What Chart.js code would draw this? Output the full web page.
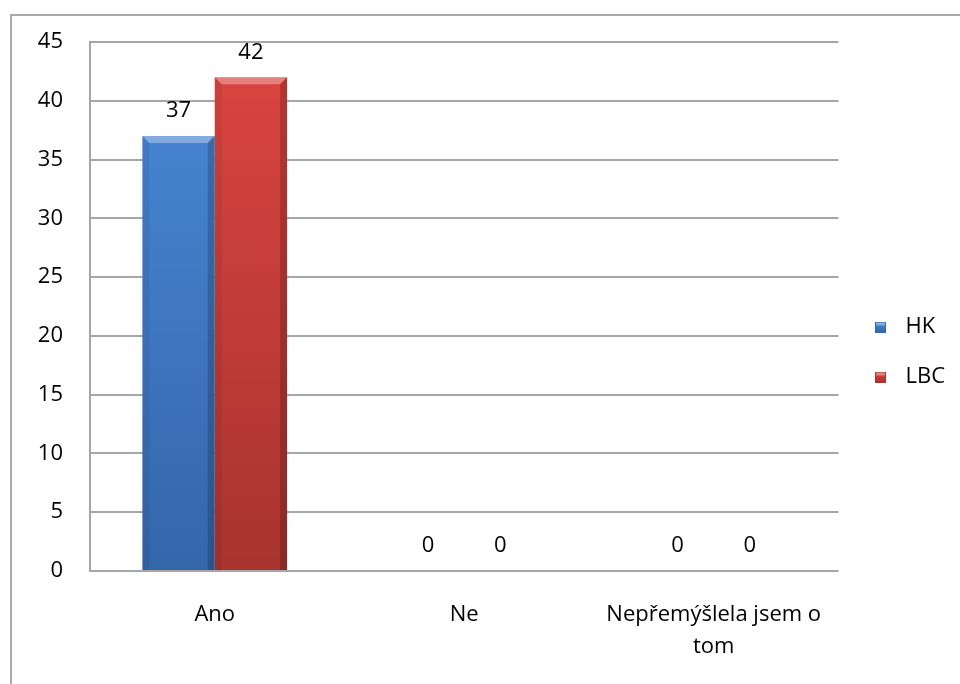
<!DOCTYPE html>
<html>
<head>
<meta charset="utf-8">
<title>Ano / Ne</title>
<script src="https://cdn.jsdelivr.net/npm/chart.js@4/dist/chart.umd.min.js"></script>
<style>
html,body{margin:0;padding:0;background:#fff;}
#wrap{width:960px;height:684px;}
</style>
</head>
<body>
<div id="wrap"><canvas id="chart" width="960" height="684"></canvas></div>
<script>
const categories = ["Ano", "Ne", "Nepřemýšlela jsem o tom"];
const seriesNames = ["HK", "LBC"];
const hkValues = [37, 0, 0];
const lbcValues = [42, 0, 0];
const yTicks = [0, 5, 10, 15, 20, 25, 30, 35, 40, 45];

const FONT = "'Open Sans', 'Noto Sans', sans-serif";
const FONT_SIZE = 22;

// [top colour, bottom colour] of each series
const shades = [
  ["#4a89d8", "#3466aa"],
  ["#dc4541", "#a8332f"]
];

function wrapLabel(text, maxChars){
  const words = text.split(" ");
  const lines = [];
  let line = "";
  words.forEach(w => {
    const next = line ? line + " " + w : w;
    if(next.length > maxChars && line){
      lines.push(line);
      line = w;
    } else {
      line = next;
    }
  });
  if(line) lines.push(line);
  return lines.length > 1 ? lines : text;
}

function barFill(i){
  return function(context){
    const area = context.chart.chartArea;
    if(!area) return shades[i][0];
    const g = context.chart.ctx.createLinearGradient(0, area.top, 0, area.bottom);
    g.addColorStop(0, shades[i][0]);
    g.addColorStop(1, shades[i][1]);
    return g;
  };
}

// little shaded squares for the legend
function legendSwatch(i){
  const c = document.createElement("canvas");
  c.width = 11; c.height = 11;
  const x = c.getContext("2d");
  const g = x.createLinearGradient(0, 0, 0, 11);
  g.addColorStop(0, shades[i][0]);
  g.addColorStop(1, shades[i][1]);
  x.fillStyle = g;
  x.fillRect(0, 0, 11, 11);
  x.fillStyle = "rgba(255,255,255,0.35)";
  x.fillRect(1, 1, 9, 3);
  x.strokeStyle = shades[i][1];
  x.strokeRect(0.5, 0.5, 10, 10);
  return c;
}

const framePlugin = {
  id: "frame",
  beforeDraw(chart){
    const ctx = chart.ctx;
    ctx.save();
    ctx.strokeStyle = "#a8a8a8";
    ctx.lineWidth = 2;
    ctx.beginPath();
    ctx.moveTo(11, 700);
    ctx.lineTo(11, 15);
    ctx.lineTo(980, 15);
    ctx.stroke();
    ctx.restore();
  }
};

// bevelled edges on every bar
const bevelPlugin = {
  id: "bevel",
  afterDatasetsDraw(chart){
    const ctx = chart.ctx;
    chart.data.datasets.forEach((ds, di) => {
      chart.getDatasetMeta(di).data.forEach(el => {
        const p = el.getProps(["x", "y", "base", "width"], true);
        const h = p.base - p.y;
        if(h <= 1) return;
        const l = p.x - p.width / 2, r = p.x + p.width / 2;
        const b = Math.min(7, h / 2);
        ctx.save();
        ctx.fillStyle = "rgba(255,255,255,0.32)";
        ctx.beginPath();
        ctx.moveTo(l, p.y); ctx.lineTo(r, p.y); ctx.lineTo(r - b, p.y + b); ctx.lineTo(l + b, p.y + b);
        ctx.closePath(); ctx.fill();
        ctx.fillStyle = "rgba(0,0,0,0.06)";
        ctx.beginPath();
        ctx.moveTo(l, p.y); ctx.lineTo(l + b, p.y + b); ctx.lineTo(l + b, p.base); ctx.lineTo(l, p.base);
        ctx.closePath(); ctx.fill();
        ctx.fillStyle = "rgba(0,0,0,0.18)";
        ctx.beginPath();
        ctx.moveTo(r, p.y); ctx.lineTo(r, p.base); ctx.lineTo(r - b, p.base); ctx.lineTo(r - b, p.y + b);
        ctx.closePath(); ctx.fill();
        ctx.restore();
      });
    });
  }
};

const valueLabels = {
  id: "valueLabels",
  afterDatasetsDraw(chart){
    const ctx = chart.ctx;
    ctx.save();
    ctx.font = FONT_SIZE + "px " + FONT;
    ctx.fillStyle = "#000";
    ctx.textAlign = "center";
    ctx.textBaseline = "middle";
    chart.data.datasets.forEach((ds, di) => {
      chart.getDatasetMeta(di).data.forEach((el, i) => {
        ctx.fillText(ds.data[i], el.x, el.y - 25);
      });
    });
    ctx.restore();
  }
};

new Chart(document.getElementById("chart"), {
  type: "bar",
  data: {
    labels: categories,
    datasets: [
      { label: seriesNames[0], data: hkValues, backgroundColor: barFill(0), borderWidth: 0 },
      { label: seriesNames[1], data: lbcValues, backgroundColor: barFill(1), borderWidth: 0 }
    ]
  },
  options: {
    responsive: false,
    animation: false,
    events: [],
    layout: { padding: { top: 42, left: 10, right: 5, bottom: 22 } },
    datasets: { bar: { categoryPercentage: 0.58, barPercentage: 1.0 } },
    plugins: {
      tooltip: { enabled: false },
      legend: {
        position: "right",
        labels: {
          usePointStyle: true,
          pointStyleWidth: 28,
          boxHeight: 11,
          padding: 28,
          color: "#000",
          font: { family: FONT, size: FONT_SIZE },
          generateLabels(chart){
            return chart.data.datasets.map((ds, i) => ({
              text: ds.label,
              fillStyle: shades[i][0],
              strokeStyle: shades[i][1],
              pointStyle: legendSwatch(i),
              lineWidth: 0,
              datasetIndex: i
            }));
          }
        }
      }
    },
    scales: {
      x: {
        grid: { display: false, drawTicks: false },
        border: { display: false },
        afterFit(scale){ scale.height = 91; },
        ticks: {
          padding: 28,
          color: "#000",
          maxRotation: 0,
          autoSkip: false,
          font: { family: FONT, size: FONT_SIZE, lineHeight: "32px" },
          callback(value){ return wrapLabel(this.getLabelForValue(value), 20); }
        }
      },
      y: {
        min: yTicks[0],
        max: yTicks[yTicks.length - 1],
        afterBuildTicks(scale){ scale.ticks = yTicks.map(v => ({ value: v })); },
        afterFit(scale){ scale.width = 80; },
        grid: { color: "#a6a6a6", lineWidth: 2, drawTicks: false },
        border: { color: "#a6a6a6", width: 2 },
        ticks: {
          padding: 27,
          color: "#000",
          font: { family: FONT, size: FONT_SIZE }
        }
      }
    }
  },
  plugins: [framePlugin, bevelPlugin, valueLabels]
});
</script>
</body>
</html>
